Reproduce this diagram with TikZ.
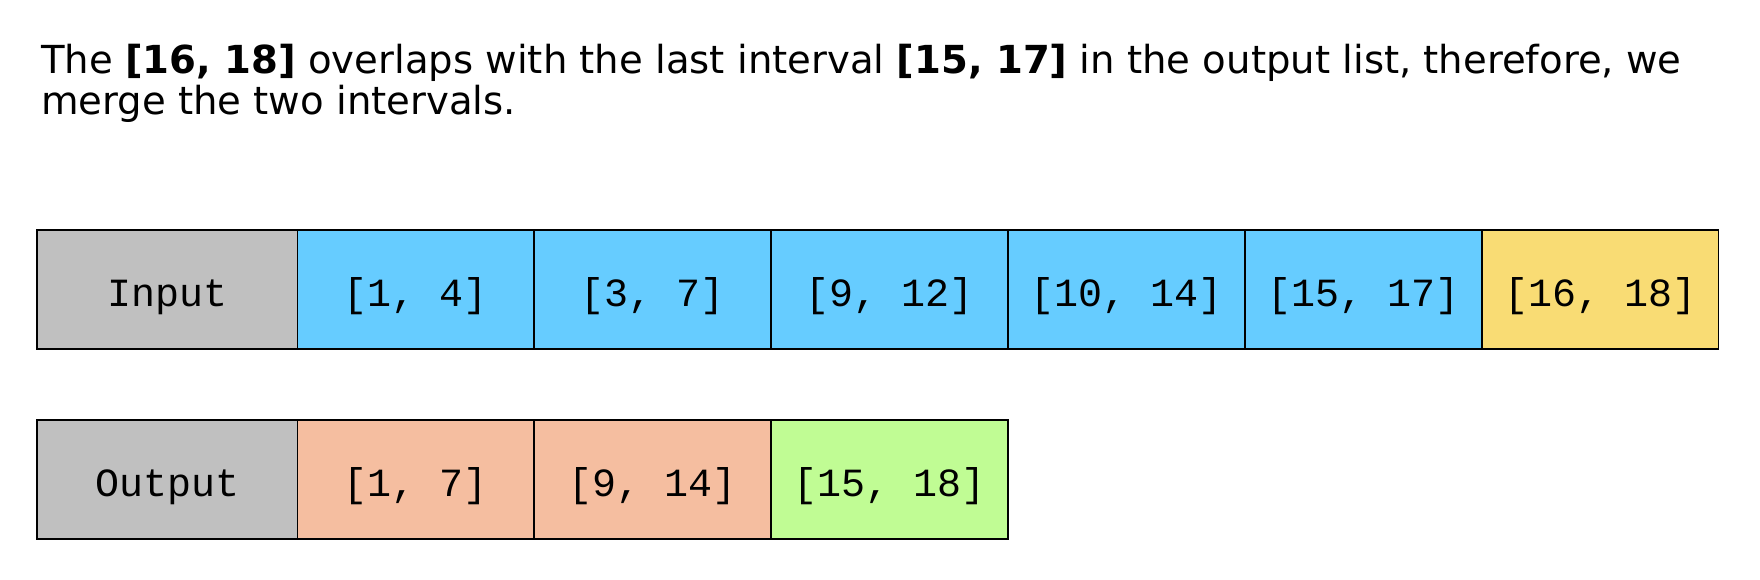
\documentclass[tikz,border=0pt]{standalone}
\usepackage{fontspec}
\setmainfont{DejaVu Sans}
\newfontfamily\cellfont{Liberation Mono}
\definecolor{cgray}{RGB}{192,192,192}
\definecolor{cblue}{RGB}{102,204,255}
\definecolor{cyellow}{RGB}{249,220,116}
\definecolor{cpeach}{RGB}{245,190,160}
\definecolor{cgreen}{RGB}{192,252,148}
\begin{document}
\begin{tikzpicture}[x=1pt,y=-1pt,
  cell/.style={draw=black,line width=1.8pt,minimum height=119pt,inner sep=0pt,outer sep=0pt,anchor=north west,text height=33pt,text depth=0pt,font=\cellfont\fontsize{40}{40}\selectfont},
  head/.style={anchor=base west,inner sep=0pt,font=\fontsize{38.6}{42}\selectfont}]
\useasboundingbox (0,0) rectangle (1760,580);
\node[head] (l1) at (41,74) {The \textbf{[16, 18]} overlaps with the last interval \textbf{[15, 17]} in the output list, therefore, we};
\node[head] (l2) at (41,115) {merge the two intervals.};
% input row
\node[cell,fill=cgray,minimum width=260.4pt] (in0) at (37,230) {Input};
\node[cell,fill=cblue,minimum width=236.85pt] (in1) at (297.4,230) {[1, 4]};
\node[cell,fill=cblue,minimum width=236.85pt] (in2) at (534.25,230) {[3, 7]};
\node[cell,fill=cblue,minimum width=236.85pt] (in3) at (771.1,230) {[9, 12]};
\node[cell,fill=cblue,minimum width=236.85pt] (in4) at (1007.95,230) {[10, 14]};
\node[cell,fill=cblue,minimum width=236.85pt] (in5) at (1244.8,230) {[15, 17]};
\node[cell,fill=cyellow,minimum width=236.85pt] (in6) at (1481.65,230) {[16, 18]};
% output row
\node[cell,fill=cgray,minimum width=260.4pt] (out0) at (37,420) {Output};
\node[cell,fill=cpeach,minimum width=236.85pt] (out1) at (297.4,420) {[1, 7]};
\node[cell,fill=cpeach,minimum width=236.85pt] (out2) at (534.25,420) {[9, 14]};
\node[cell,fill=cgreen,minimum width=236.85pt] (out3) at (771.1,420) {[15, 18]};
\end{tikzpicture}
\end{document}
